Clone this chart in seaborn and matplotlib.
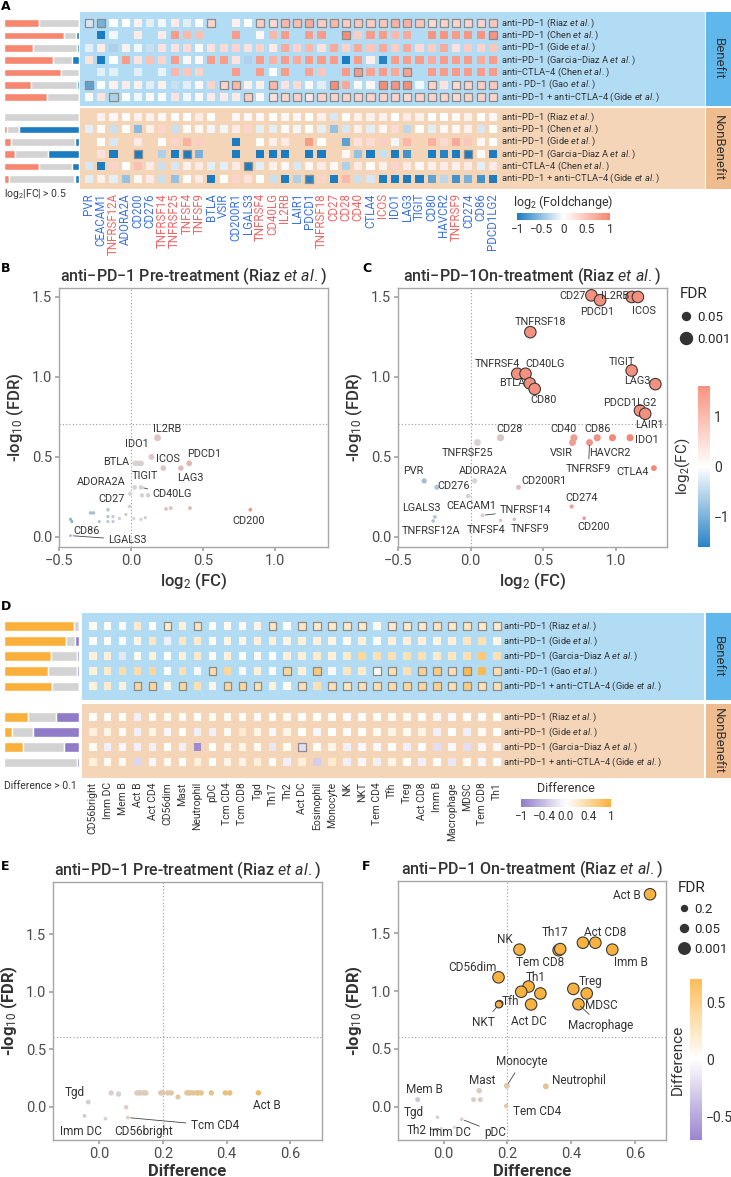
import numpy as np
import pandas as pd
import matplotlib.pyplot as plt
import seaborn as sns
from matplotlib.colors import LinearSegmentedColormap, Normalize
from matplotlib.cm import ScalarMappable
from matplotlib.lines import Line2D

nan = np.nan

# ---------------- panel A: checkpoint genes, log2 fold change per study
genes = ["PVR", "CEACAM1", "TNFRSF12A", "ADORA2A", "CD200", "CD276", "TNFRSF14",
         "TNFRSF25", "TNFSF4", "TNFSF9", "BTLA", "VSIR", "CD200R1", "LGALS3",
         "TNFRSF4", "CD40LG", "IL2RB", "LAIR1", "PDCD1", "TNFRSF18", "CD27", "CD28",
         "CD40", "CTLA4", "ICOS", "IDO1", "LAG3", "TIGIT", "CD80", "HAVCR2",
         "TNFRSF9", "CD274", "CD86", "PDCD1LG2"]
gene_kind = "iisiiissssiiiisssiissssisiiiiisiii"  # s = stimulatory, i = inhibitory

a_treat_b = ["anti−PD−1", "anti−PD−1", "anti−PD−1", "anti−PD−1", "anti−CTLA−4",
             "anti - PD−1", "anti−PD−1 + anti−CTLA−4"]
a_author_b = ["Riaz", "Chen", "Gide", "Garcia−Diaz A", "Chen", "Gao", "Gide"]
a_treat_nb = ["anti−PD−1", "anti−PD−1", "anti−PD−1", "anti−PD−1", "anti−CTLA−4",
              "anti−PD−1 + anti−CTLA−4"]
a_author_nb = ["Riaz", "Chen", "Gide", "Garcia−Diaz A", "Chen", "Gide"]

fc_benefit = [
    [-0.15, -0.5, 0.02, 0.0, 0.1, -0.1, -0.05, 0.15, -0.1, 0.0, 0.3, nan, 0.1, 0.0, 0.35, 0.25, 0.5,
     0.45, 0.6, 0.35, 0.5, 0.35, 0.4, 0.35, 0.4, 0.55, 0.55, 0.4, 0.25, 0.3, 0.3, 0.3, 0.3, 0.4],
    [nan, -1.0, -0.05, nan, 0.15, nan, 0.15, 0.7, 0.5, 0.45, nan, nan, 0.7, nan, 0.05, 0.5, 0.7,
     nan, 0.7, 0.7, nan, 0.8, 0.35, 0.7, 0.7, 0.5, 0.6, nan, 0.75, 0.75, 0.7, 0.75, 0.75, 0.75],
    [-0.1, 0.15, -0.3, 0.1, -0.05, -0.2, 0.2, 0.2, 0.25, 0.05, 0.2, 0.25, 0.3, 0.2, 0.3, 0.15, 0.6,
     0.3, 0.5, 0.2, 0.6, 0.3, 0.6, 0.4, 0.6, 0.35, 0.6, 0.25, 0.35, 0.6, 0.2, 0.35, 0.3, 0.4],
    [0.2, -1.0, 0.0, 0.7, 0.2, 0.45, 0.3, 0.7, 0.05, 0.05, 0.7, 0.7, 0.2, -0.3, 0.7, 0.55, 0.7,
     0.6, 0.7, 0.7, 0.7, -0.9, 0.7, 0.1, -0.8, 0.7, 0.7, 0.7, 0.6, 0.7, 0.7, 0.7, 0.6, 0.7],
    [nan, -0.1, -0.1, nan, -0.1, nan, -0.08, 0.5, 0.4, 0.3, nan, nan, 0.7, nan, 0.7, 0.0, 0.7,
     nan, 0.65, 0.4, nan, 0.7, 0.7, 0.65, 0.7, 0.6, 0.65, nan, 0.7, 0.7, 0.7, 0.7, 0.7, 0.7],
    [-0.6, 0.0, 0.1, 0.15, 0.1, -0.1, 0.1, -0.2, -0.1, 0.05, 0.3, 0.3, 0.5, 0.1, 0.1, 0.5, 0.2,
     0.25, 0.05, -0.1, 0.8, 0.6, 0.05, 0.05, 0.8, 0.75, 0.8, -0.05, 0.3, 0.2, 0.25, 0.3, 0.35, 0.4],
    [0.02, 0.2, -0.3, 0.0, -0.05, 0.05, 0.0, 0.2, -0.05, 0.05, 0.15, 0.15, 0.15, 0.35, 0.05, 0.2, 0.3,
     0.3, 0.15, 0.3, 0.3, 0.3, 0.3, 0.3, 0.3, 0.3, 0.25, 0.3, 0.3, 0.3, 0.25, 0.3, 0.3, 0.3],
]
fc_nonbenefit = [
    [nan, 0.1, 0.05, 0.02, 0.1, 0.1, 0.05, 0.02, 0.0, 0.15, 0.0, nan, 0.05, 0.05, 0.05, 0.0, 0.05,
     0.05, 0.0, 0.1, -0.15, 0.0, 0.1, 0.1, 0.1, 0.0, 0.15, 0.1, 0.0, 0.0, 0.05, 0.1, 0.0, 0.05],
    [-0.1, 0.02, -0.2, 0.0, -0.45, 0.1, 0.3, -0.2, 0.02, 0.05, -0.05, -0.05, 0.15, 0.3, -0.1, -0.1, 0.02,
     -0.05, 0.0, -0.1, -0.4, -0.15, 0.1, -0.1, 0.05, 0.25, -0.25, 0.0, -0.1, 0.05, 0.05, 0.1, -0.15, 0.0],
    [nan, 0.0, -0.15, nan, 0.15, nan, 0.0, 0.3, 0.55, 0.35, nan, nan, -1.0, nan, 0.0, 0.1, 0.15,
     nan, 0.7, 0.0, nan, -0.6, 0.2, 0.25, 0.35, -0.05, 0.5, nan, 0.55, 0.25, 0.6, 0.4, 0.05, 0.0],
    [nan, 0.2, -1.0, nan, -1.0, nan, -0.3, -1.0, -1.0, -0.5, nan, nan, -1.0, nan, -1.0, -1.0, -1.0,
     nan, -1.0, -1.0, nan, 0.05, -0.4, -1.0, -0.2, -1.0, -0.7, nan, -1.0, -0.8, -1.0, -1.0, 0.02, -1.0],
    [-0.15, -1.0, 0.3, 0.0, 0.45, 0.15, -0.2, -0.15, 0.1, 0.15, -0.1, -0.1, 0.15, -0.9, -0.1, 0.1, 0.05,
     -0.15, 0.05, 0.15, 0.05, -0.3, 0.15, 0.02, 0.1, 0.3, 0.15, 0.05, 0.1, 0.15, 0.1, 0.15, -0.1, 0.15],
    [-0.1, 0.1, -0.1, -0.4, 0.05, 0.15, -0.2, -0.4, 0.0, 0.15, -1.0, 0.0, 0.3, 0.2, 0.0, -0.2, -1.0,
     -0.3, -0.8, 0.3, -1.0, 0.5, -0.2, -0.15, -1.0, -1.0, -1.0, -1.0, -0.6, -0.25, -0.7, -0.5, -0.7, -1.0],
]
# significant cells (outlined), column indices per row
sig_benefit = [[0, 1, 10] + list(range(14, 34)), [21, 33], [], [], [22, 26],
               [0, 11, 12, 15, 20, 24, 25, 26, 28, 30, 31, 32, 33], [2, 13] + list(range(15, 34))]
sig_nonbenefit = [[], [], [], [4, 8, 31], [13], [18]]

# share of genes up / down per study (rest is |FC| <= 0.5)
a_up_b = [0.47, 0.80, 0.39, 0.65, 0.76, 0.36, 0.57]
a_down_b = [0.0, 0.04, 0.03, 0.09, 0.0, 0.03, 0.0]
a_up_nb = [0.0, 0.045, 0.09, 0.15, 0.46, 0.06]
a_down_nb = [0.0, 0.80, 0.06, 0.41, 0.09, 0.06]

# ---------------- panel D: immune cell differences per study
cells = ["CD56bright", "Imm DC", "Mem B", "Act B", "Act CD4", "CD56dim", "Mast", "Neutrophil",
         "pDC", "Tcm CD4", "Tcm CD8", "Tgd", "Th17", "Th2", "Act DC", "Eosinophil", "Monocyte",
         "NK", "NKT", "Tem CD4", "Tfh", "Treg", "Act CD8", "Imm B", "Macrophage", "MDSC",
         "Tem CD8", "Th1"]
d_treat_b = ["anti−PD−1", "anti−PD−1", "anti−PD−1", "anti - PD−1", "anti−PD−1 + anti−CTLA−4"]
d_author_b = ["Riaz", "Gide", "Garcia−Diaz A", "Gao", "Gide"]
d_treat_nb = ["anti−PD−1", "anti−PD−1", "anti−PD−1", "anti−PD−1 + anti−CTLA−4"]
d_author_nb = ["Riaz", "Gide", "Garcia−Diaz A", "Gide"]

diff_benefit = [
    [0.05, 0.02, -0.02, 0.2, 0.0, 0.2, 0.15, 0.25, 0.02, 0.05, 0.05, 0.1, 0.25, 0.0, 0.25, 0.2, 0.2,
     0.2, 0.2, 0.05, 0.2, 0.2, 0.2, 0.25, 0.2, 0.25, 0.2, 0.2],
    [0.0, 0.0, -0.03, 0.1, 0.25, -0.1, 0.25, 0.2, 0.05, 0.1, 0.1, 0.15, 0.15, 0.1, 0.15, 0.15, 0.1,
     0.05, 0.15, 0.0, 0.15, 0.15, 0.15, 0.1, 0.15, 0.25, 0.3, 0.1],
    [0.15, 0.15, -0.15, 0.05, 0.15, 0.0, 0.15, 0.2, 0.05, 0.15, 0.0, 0.05, 0.0, 0.15, 0.15, 0.2, 0.15,
     0.2, 0.4, 0.3, 0.3, 0.3, 0.3, 0.2, 0.25, 0.3, 0.55, 0.3],
    [0.15, 0.2, 0.35, 0.35, 0.4, 0.0, 0.3, -0.05, 0.35, 0.4, -0.05, 0.15, 0.02, 0.4, 0.15, 0.55, -0.05,
     0.25, 0.2, 0.05, 0.3, 0.3, 0.45, 0.5, 0.3, 0.7, 0.7, 0.3],
    [0.15, 0.2, 0.15, 0.4, 0.4, 0.1, 0.4, 0.3, 0.1, 0.4, 0.4, 0.3, 0.15, 0.05, 0.3, 0.3, 0.3,
     0.25, 0.3, 0.3, 0.35, 0.4, 0.4, 0.45, 0.3, 0.5, 0.3, 0.3],
]
diff_nonbenefit = [
    [0.02, 0.02, 0.0, -0.1, 0.02, 0.05, 0.02, 0.0, 0.05, 0.05, 0.02, -0.02, 0.0, 0.05, 0.0, 0.0, 0.02,
     -0.02, 0.02, 0.02, 0.05, 0.05, 0.02, -0.05, -0.03, 0.0, 0.02, 0.0],
    [0.15, 0.1, 0.03, -0.1, 0.1, -0.05, 0.0, -0.1, -0.1, 0.05, 0.2, 0.1, -0.05, 0.1, 0.0, -0.05, 0.0,
     -0.02, 0.02, 0.05, 0.1, 0.05, 0.1, -0.1, 0.0, -0.1, 0.05, 0.0],
    [0.05, -0.1, -0.05, -0.1, -0.1, 0.0, -0.1, -0.7, 0.0, 0.1, 0.1, 0.05, -0.15, 0.05, -0.2, 0.02, 0.1,
     -0.1, -0.05, -0.05, 0.02, -0.1, 0.02, -0.2, -0.05, -0.2, -0.05, -0.05],
    [0.15, 0.05, 0.05, -0.25, -0.05, 0.05, 0.0, 0.15, 0.0, 0.1, 0.1, 0.15, 0.0, -0.1, 0.15, -0.3, 0.2,
     -0.1, -0.05, -0.1, 0.1, 0.02, -0.1, 0.0, -0.15, 0.05, -0.05, 0.0],
]
dsig_benefit = [[5, 7, 12, 14, 15, 16, 17, 18] + list(range(20, 28)), [], [],
                [8, 13, 15, 19, 20, 22, 23, 24, 25, 27],
                [3, 4, 6, 9, 10, 11, 14, 16, 17, 18] + list(range(19, 28))]
dsig_nonbenefit = [[], [], [14], []]

d_up_b = [0.93, 0.83, 0.62, 0.58, 0.64]
d_down_b = [0.0, 0.06, 0.03, 0.03, 0.0]
d_up_nb = [0.32, 0.10, 0.25, 0.0]
d_down_nb = [0.31, 0.61, 0.20, 0.03]

# ---------------- panels B / C: volcano of checkpoint genes
b_gene = ["IL2RB", "IDO1", "ICOS", "LAG3", "PDCD1", "BTLA", "CD40", "TNFRSF4", "TIGIT", "CD40LG",
          "ADORA2A", "CD28", "TNFRSF18", "CD27", "CD80", "TNFRSF9", "CTLA4", "CD200", "CD276", "PVR",
          "CEACAM1", "VSIR", "LAIR1", "HAVCR2", "CD200R1", "TNFRSF12A", "CD274", "PDCD1LG2",
          "TNFRSF25", "CD86", "TNFSF4", "TNFSF9", "TNFRSF14", "LGALS3"]
b_fc = [0.185, 0.143, 0.225, 0.347, 0.405, 0.03, 0.05, 0.07, 0.026, 0.07, -0.005, 0.077, 0.12, -0.01,
        0.244, 0.277, 0.41, 0.83, -0.16, -0.28, -0.26, -0.16, -0.125, -0.035, -0.08, -0.22, -0.16,
        -0.125, -0.42, -0.41, 0.02, 0.07, 0.1, -0.42]
b_lfdr = [0.62, 0.50, 0.43, 0.43, 0.46, 0.46, 0.46, 0.46, 0.31, 0.31, 0.27, 0.26, 0.26, 0.19, 0.175,
          0.18, 0.18, 0.17, 0.17, 0.15, 0.15, 0.127, 0.127, 0.14, 0.115, 0.096, 0.096, 0.096, 0.11,
          0.096, 0.115, 0.11, 0.12, 0.008]

c_gene = ["CD27", "PDCD1", "IL2RB", "ICOS", "TNFRSF18", "TNFRSF4", "CD40LG", "BTLA", "CD80", "TIGIT",
          "LAG3", "PDCD1LG2", "LAIR1", "CD28", "TNFRSF25", "CD40", "VSIR", "CD86", "HAVCR2", "TNFRSF9",
          "IDO1", "CTLA4", "PVR", "ADORA2A", "CD276", "CD200R1", "CEACAM1", "CD274", "LGALS3",
          "TNFRSF12A", "TNFRSF14", "TNFSF4", "TNFSF9", "CD200"]
c_fc = [0.83, 0.89, 1.107, 1.15, 0.41, 0.32, 0.377, 0.406, 0.44, 1.107, 1.27, 1.164, 1.20, 0.205,
        0.046, 0.71, 0.70, 0.87, 0.975, 0.817, 1.096, 1.26, -0.32, 0.027, -0.233, 0.329, -0.018,
        0.694, -0.246, -0.258, 0.082, 0.205, 0.30, 0.78]
c_lfdr = [1.51, 1.48, 1.50, 1.50, 1.28, 1.02, 1.02, 0.96, 0.925, 1.04, 0.955, 0.79, 0.77, 0.62, 0.59,
          0.62, 0.59, 0.62, 0.62, 0.59, 0.62, 0.43, 0.35, 0.35, 0.31, 0.31, 0.256, 0.19, 0.125, 0.10,
          0.135, 0.104, 0.11, 0.117]

# ---------------- panels E / F: volcano of cell types
e_cell = ["Tgd", "Imm DC", "CD56bright", "Tcm CD4", "Mem B", "Mast", "pDC", "Th2", "Neutrophil",
          "Tcm CD8", "Th17", "Monocyte", "Eosinophil", "NKT", "Tem CD4", "Th1", "NK", "Tfh", "Act CD4",
          "CD56dim", "Act DC", "Imm B", "Treg", "Act B", "Act CD8", "Macrophage", "MDSC", "Tem CD8"]
e_diff = [-0.035, -0.047, 0.019, 0.089, 0.084, 0.037, 0.06, 0.247, 0.118, 0.129, 0.139, 0.146, 0.193,
          0.215, 0.226, 0.275, 0.286, 0.296, 0.307, 0.32, 0.352, 0.396, 0.41, 0.50, 0.125, 0.20,
          0.28, 0.31]
e_lfdr = [0.04, -0.08, -0.104, -0.095, -0.005, 0.12, 0.11, 0.084, 0.12, 0.12, 0.12, 0.12, 0.12, 0.12,
          0.12, 0.12, 0.12, 0.12, 0.12, 0.12, 0.12, 0.12, 0.12, 0.12, 0.12, 0.12, 0.12, 0.12]

f_cell = ["Act B", "NK", "Tem CD8", "Th17", "Act CD8", "Tcm CD8", "Imm B", "CD56dim", "Th1", "Act CD4",
          "Eosinophil", "Act DC", "Treg", "MDSC", "Macrophage", "Tfh", "NKT", "Monocyte", "Neutrophil",
          "Mast", "CD56bright", "Tcm CD4", "Mem B", "Tem CD4", "Tgd", "Th2", "Imm DC", "pDC"]
f_diff = [0.646, 0.2375, 0.36, 0.365, 0.475, 0.436, 0.528, 0.172, 0.266, 0.243, 0.303, 0.274, 0.406,
          0.448, 0.422, 0.175, 0.173, 0.198, 0.32, 0.1115, 0.094, 0.115, -0.081, 0.196, -0.019,
          -0.007, 0.034, 0.057]
f_lfdr = [1.84, 1.36, 1.355, 1.365, 1.42, 1.42, 1.36, 1.12, 1.04, 0.995, 0.98, 0.885, 1.02, 0.98,
          0.887, 0.89, 0.885, 0.18, 0.175, 0.137, 0.06, 0.06, 0.06, 0.005, -0.093, -0.19, -0.18, -0.11]
f_fdr = [0.001] * 15 + [0.05, 0.05] + [0.66, 0.67, 0.73, 0.87, 0.87, 0.87, 0.99, 1, 1, 1, 1]

# ---------------- style
sns.set_theme(style="white")
plt.rcParams["font.family"] = ["Roboto", "DejaVu Sans"]
plt.rcParams["mathtext.fontset"] = "custom"
plt.rcParams["mathtext.rm"] = "Roboto"
plt.rcParams["mathtext.it"] = "Roboto:italic"
plt.rcParams["mathtext.bf"] = "Roboto:bold"

TXT = "#333333"
BLUE_BG, ORANGE_BG = "#b1dcf4", "#f5d5b8"
BLUE_STRIP, ORANGE_STRIP = "#5fb7ec", "#efbc8f"
GREY = "#d3d3d3"
SALMON, FC_BLUE = "#f7866f", "#1b7cc1"
ORANGE, PURPLE = "#fbb03b", "#8f7bc8"

fc_cmap = LinearSegmentedColormap.from_list("fc", [FC_BLUE, "#ffffff", SALMON])
diff_cmap = LinearSegmentedColormap.from_list("diff", [PURPLE, "#ffffff", ORANGE])
fc_pts = LinearSegmentedColormap.from_list("fcp", ["#2f86c4", "#d6d6d6", "#f4877a"])
diff_pts = LinearSegmentedColormap.from_list("dfp", ["#8f7cc6", "#d5d3d6", "#f6b144"])

W, H = 731, 1177
fig = plt.figure(figsize=(W / 100, H / 100), dpi=100)


def px_axes(x0, y0, x1, y1):
    return fig.add_axes([x0 / W, 1 - y1 / H, (x1 - x0) / W, (y1 - y0) / H])


def ftext(x, y, s, **kw):
    fig.text(x / W, 1 - y / H, s, **kw)


def study_label(treat, author):
    return f"{treat} ({author} $\\it{{et\\ al.}}$)"


def blank(ax):
    ax.set_xticks([])
    ax.set_yticks([])
    for sp in ax.spines.values():
        sp.set_visible(False)


def draw_grid(ax, mat_b, mat_nb, sig_b, sig_nb, nb_offset, cmap, norm, size):
    recs = []
    for r, vals in enumerate(mat_b):
        for c, v in enumerate(vals):
            recs.append(dict(row=r, col=c, value=v, sig=c in sig_b[r]))
    for r, vals in enumerate(mat_nb):
        for c, v in enumerate(vals):
            recs.append(dict(row=nb_offset + r, col=c, value=v, sig=c in sig_nb[r]))
    df = pd.DataFrame(recs).dropna(subset=["value"])
    sns.scatterplot(data=df[~df.sig], x="col", y="row", hue="value", palette=cmap, hue_norm=norm,
                    marker="s", s=size, edgecolor="none", linewidth=0, legend=False, ax=ax, zorder=3)
    sns.scatterplot(data=df[df.sig], x="col", y="row", hue="value", palette=cmap, hue_norm=norm,
                    marker="s", s=size, edgecolor="#8c8c8c", linewidth=0.9, legend=False, ax=ax, zorder=3)


def draw_bars(ax, up, down, rows, c_up, c_down, ylim):
    up, down = np.array(up), np.array(down)
    rest = 1 - up - down
    ax.barh(rows, up, height=0.62, color=c_up)
    ax.barh(rows, rest, left=up, height=0.62, color=GREY)
    ax.barh(rows, down, left=up + rest, height=0.62, color=c_down)
    ax.set_xlim(0, 1)
    ax.set_ylim(*ylim)
    blank(ax)


def strip(x0, y0, x1, y1, color, text):
    ax = px_axes(x0, y0, x1, y1)
    ax.set_facecolor(color)
    blank(ax)
    ax.text(0.5, 0.5, text, rotation=270, ha="center", va="center", fontsize=9.5, color=TXT,
            transform=ax.transAxes)


def hcolorbar(x0, y0, x1, y1, cmap, norm, ticks, labels, title):
    cax = px_axes(x0, y0, x1, y1)
    cb = fig.colorbar(ScalarMappable(norm=norm, cmap=cmap), cax=cax, orientation="horizontal")
    cb.outline.set_visible(False)
    cb.set_ticks(ticks)
    cb.set_ticklabels(labels)
    cax.tick_params(direction="in", length=2.5, width=0.8, color="white", labelsize=8.5,
                    labelcolor=TXT, pad=2)
    ftext((x0 + x1) / 2, y0 - 11, title, ha="center", va="center", fontsize=9, color=TXT)


def vcolorbar(x0, y0, x1, y1, cmap, norm, ticks, labels, title):
    cax = px_axes(x0, y0, x1, y1)
    cb = fig.colorbar(ScalarMappable(norm=norm, cmap=cmap), cax=cax, orientation="vertical")
    cb.outline.set_visible(False)
    cb.set_ticks(ticks)
    cb.set_ticklabels(labels)
    cax.tick_params(direction="in", length=3, width=0.8, color="white", labelsize=10,
                    labelcolor=TXT, pad=3)
    cax.yaxis.set_label_position("left")
    cax.set_ylabel(title, fontsize=11, color=TXT, labelpad=4)


ROW_FS = 6.7

# ================= panel A
a_rows_b = list(range(len(fc_benefit)))
a_nb_off = 7.61
a_rows_nb = [a_nb_off + i for i in range(len(fc_nonbenefit))]
a_ylim = (13.44, -0.89)

ax = px_axes(80, 12, 705, 189)
ax.axhspan(-0.89, 6.72, color=BLUE_BG, zorder=0, lw=0)
ax.axhspan(6.88, 13.44, color=ORANGE_BG, zorder=0, lw=0)
draw_grid(ax, fc_benefit, fc_nonbenefit, sig_benefit, sig_nonbenefit, a_nb_off,
          fc_cmap, Normalize(-0.85, 0.85), 34)
ax.set_xlim(-0.735, 50.33)
ax.set_ylim(*a_ylim)
ax.set_xticks(range(len(genes)))
ax.set_xticklabels(genes, rotation=90, fontsize=8.3)
for lbl, kind in zip(ax.get_xticklabels(), gene_kind):
    lbl.set_color("#f26464" if kind == "s" else "#3d72e0")
ax.set_yticks([])
ax.tick_params(axis="x", length=0, pad=3)
ax.set_xlabel("")
ax.set_ylabel("")
for sp in ax.spines.values():
    sp.set_visible(False)
for r, t, a in zip(a_rows_b, a_treat_b, a_author_b):
    ax.text(33.66, r, study_label(t, a), fontsize=ROW_FS, va="center", ha="left", color=TXT)
for r, t, a in zip(a_rows_nb, a_treat_nb, a_author_nb):
    ax.text(33.66, r, study_label(t, a), fontsize=ROW_FS, va="center", ha="left", color=TXT)

bx = px_axes(4, 12, 79, 189)
draw_bars(bx, a_up_b + a_up_nb, a_down_b + a_down_nb, a_rows_b + a_rows_nb, SALMON, FC_BLUE, a_ylim)
strip(706, 12, 731, 106, BLUE_STRIP, "Benefit")
strip(706, 108, 731, 189, ORANGE_STRIP, "NonBenefit")
ftext(4, 194, r"log$_2$|FC| > 0.5", fontsize=7.5, va="center", color=TXT)
hcolorbar(517, 213, 610, 220, fc_cmap, Normalize(-1, 1), [-1, -0.5, 0, 0.5, 1],
          ["−1", "−0.5", "0", "0.5", "1"], r"log$_2$ (Foldchange)")

# ================= panel D
d_rows_b = list(range(len(diff_benefit)))
d_nb_off = 6.05
d_rows_nb = [d_nb_off + i for i in range(len(diff_nonbenefit))]
d_ylim = (10.1, -0.864)

ax = px_axes(82, 613, 704, 778)
ax.axhspan(-0.864, 4.92, color=BLUE_BG, zorder=0, lw=0)
ax.axhspan(5.18, 10.1, color=ORANGE_BG, zorder=0, lw=0)
draw_grid(ax, diff_benefit, diff_nonbenefit, dsig_benefit, dsig_nonbenefit, d_nb_off,
          diff_cmap, Normalize(-0.8, 0.8), 30)
ax.set_xlim(-0.715, 40.84)
ax.set_ylim(*d_ylim)
ax.set_xticks(range(len(cells)))
ax.set_xticklabels(cells, rotation=90, fontsize=7.5, color=TXT)
ax.set_yticks([])
ax.tick_params(axis="x", length=0, pad=3)
ax.set_xlabel("")
ax.set_ylabel("")
for sp in ax.spines.values():
    sp.set_visible(False)
for r, t, a in zip(d_rows_b, d_treat_b, d_author_b):
    ax.text(27.41, r, study_label(t, a), fontsize=ROW_FS, va="center", ha="left", color=TXT)
for r, t, a in zip(d_rows_nb, d_treat_nb, d_author_nb):
    ax.text(27.41, r, study_label(t, a), fontsize=ROW_FS, va="center", ha="left", color=TXT)

bx = px_axes(4, 613, 79, 778)
draw_bars(bx, d_up_b + d_up_nb, d_down_b + d_down_nb, d_rows_b + d_rows_nb, ORANGE, PURPLE, d_ylim)
strip(706, 613, 731, 700, BLUE_STRIP, "Benefit")
strip(706, 704, 731, 778, ORANGE_STRIP, "NonBenefit")
ftext(4, 786, "Difference > 0.1", fontsize=7.5, va="center", color=TXT)
hcolorbar(521, 799, 611, 807, diff_cmap, Normalize(-1, 1), [-1, -0.5, 0, 0.5, 1],
          ["−1", "−0.4", "0.0", "0.4", "1"], "Difference")


# ================= volcano panels
def volcano(ax, names, xs, ys, pts_cmap, norm, sig_y, sig_color, vline, hline, sizes_px, labels, lined,
            lab_size):
    df = pd.DataFrame({"name": names, "x": xs, "y": ys})
    s = (np.asarray(sizes_px) * 0.72) ** 2
    sig = df.y.values > sig_y
    ax.axvline(vline, color="#9a9a9a", ls=(0, (1, 2)), lw=0.8, zorder=1)
    ax.axhline(hline, color="#9a9a9a", ls=(0, (1, 2)), lw=0.8, zorder=1)
    sns.scatterplot(data=df[~sig], x="x", y="y", hue="x", palette=pts_cmap, hue_norm=norm,
                    s=s[~sig], edgecolor="none", linewidth=0, legend=False, ax=ax, zorder=3)
    if sig.any():
        sns.scatterplot(data=df[sig], x="x", y="y", color=sig_color, s=s[sig],
                        edgecolor="#3a3a3a", linewidth=0.8, legend=False, ax=ax, zorder=4)
    for name, (dx, dy) in labels.items():
        row = df[df.name == name].iloc[0]
        arrow = dict(arrowstyle="-", color="#444444", lw=0.6, shrinkA=1, shrinkB=2) if name in lined else None
        ax.annotate(name, (row.x, row.y), xytext=(dx, dy), textcoords="offset pixels", ha="center",
                    va="center", fontsize=lab_size, color=TXT, arrowprops=arrow, zorder=5)


def style_axes(ax, xlim, ylim, xticks, xlabels, xlabel, ylabel, title, weight):
    ax.set_xlim(*xlim)
    ax.set_ylim(*ylim)
    ax.set_xticks(xticks)
    ax.set_xticklabels(xlabels)
    ax.set_yticks([0, 0.5, 1.0, 1.5])
    ax.set_yticklabels(["0.0", "0.5", "1.0", "1.5"])
    for sp in ax.spines.values():
        sp.set_color("#a6a6a6")
        sp.set_linewidth(1)
    ax.tick_params(length=3, color="#a6a6a6", labelsize=10.5, labelcolor="#4d4d4d", pad=2,
                   bottom=True, left=True)
    ax.set_xlabel(xlabel, fontsize=12, color=TXT, fontweight=weight, labelpad=2)
    ax.set_ylabel(ylabel, fontsize=12, color=TXT, fontweight=weight, labelpad=4)
    ax.set_title(title, fontsize=11.5, color=TXT, pad=5, fontweight="medium")


def nonsig_size(y, base, slope, lo):
    return np.clip(base + slope * np.asarray(y), lo, None)


fc_xt = [-0.5, 0, 0.5, 1.0]
fc_xl = ["−0.5", "0.0", "0.5", "1.0"]
df_xt = [0, 0.2, 0.4, 0.6]
df_xl = ["0.0", "0.2", "0.4", "0.6"]

# B
ax = px_axes(59, 288, 328, 547)
volcano(ax, b_gene, b_fc, b_lfdr, fc_pts, (-1, 1), 0.7, SALMON, 0, 0.706,
        nonsig_size(b_lfdr, 2.5, 7, 2.5),
        {"IL2RB": (10, 9), "IDO1": (-15, 13), "ICOS": (5, 9), "PDCD1": (15, 9), "LAG3": (10, -10),
         "BTLA": (-19, 1), "TIGIT": (10, 11), "CD40LG": (31, -7), "ADORA2A": (-29, 12),
         "CD27": (-18, 8), "CD200": (-2, -11), "CD86": (15, -9), "LGALS3": (57, -4)},
        {"CD40LG", "LGALS3"}, 7.8)
style_axes(ax, (-0.5, 1.37), (-0.063, 1.556), fc_xt, fc_xl, r"log$_2$ (FC)", r"-log$_{10}$ (FDR)",
           "anti−PD−1 Pre-treatment (Riaz $\\it{et\\ al.}$)", "medium")

# C
ax = px_axes(398, 288, 667, 547)
c_sizes = np.where(np.array(c_lfdr) > 0.7, 11.5, nonsig_size(c_lfdr, 2.8, 7, 2.5))
volcano(ax, c_gene, c_fc, c_lfdr, fc_pts, (-1, 1), 0.7, "#f4907e", 0, 0.706, c_sizes,
        {"CD27": (-19, -1), "PDCD1": (-3, -12), "IL2RB": (-17, 1), "ICOS": (6, -14),
         "TNFRSF18": (10, 10), "TNFRSF4": (-20, 10), "CD40LG": (20, 10), "BTLA": (-18, 0),
         "CD80": (9, -11), "TIGIT": (-10, 9), "LAG3": (-18, 3), "PDCD1LG2": (-10, 8),
         "LAIR1": (4, -11), "CD28": (9, 9), "TNFRSF25": (-10, -10), "CD40": (-10, 9),
         "VSIR": (-11, -10), "CD86": (0, 9), "HAVCR2": (-3, -15), "TNFRSF9": (-1, -26),
         "IDO1": (17, -2), "CTLA4": (-21, -4), "PVR": (-11, 10), "ADORA2A": (9, 10),
         "CD276": (17, 1), "CD200R1": (25, 6), "CEACAM1": (3, -10), "CD274": (10, 9),
         "LGALS3": (-13, 9), "TNFRSF12A": (-2, -10), "TNFRSF14": (43, 5), "TNFSF4": (-14, -10),
         "TNFSF9": (16, -10), "CD200": (10, -9)},
        {"TNFRSF9", "TNFRSF14"}, 7.8)
style_axes(ax, (-0.49, 1.35), (-0.063, 1.556), fc_xt, fc_xl, r"log$_2$ (FC)", r"-log$_{10}$ (FDR)",
           "anti−PD−1On-treatment (Riaz $\\it{et\\ al.}$)", "medium")
fig.legend([Line2D([], [], marker="o", ls="", color="#333333", markersize=d * 0.72) for d in (8, 12)],
           ["0.05", "0.001"], title="FDR", loc="upper left", bbox_to_anchor=(674 / W, 1 - 282 / H),
           frameon=False, fontsize=9.5, title_fontsize=11, handlelength=1.0, handletextpad=0.4,
           labelspacing=0.7, borderaxespad=0, alignment="left")
vcolorbar(698, 386, 710, 547, LinearSegmentedColormap.from_list("cb", ["#2b83c6", "#ffffff", "#f8937f"]),
          Normalize(-1.6, 1.6), [-1, 0, 1], ["−1", "0", "1"], r"log$_2$(FC)")

# E
ax = px_axes(53, 882, 322, 1140)
volcano(ax, e_cell, e_diff, e_lfdr, diff_pts, (-0.7, 0.7), 0.6, ORANGE, 0.2, 0.603,
        nonsig_size(e_lfdr, 4.5, 8, 2.8),
        {"Tgd": (-14, 10), "Imm DC": (-4, -16), "CD56bright": (38, -13), "Tcm CD4": (87, -8),
         "Act B": (8, -13)},
        {"Tcm CD4"}, 8.5)
style_axes(ax, (-0.146, 0.70), (-0.29, 1.955), df_xt, df_xl, "Difference", r"-log$_{10}$ (FDR)",
           "anti−PD−1 Pre-treatment (Riaz $\\it{et\\ al.}$)", "bold")

# F
ax = px_axes(398, 881, 666, 1140)
f_fdr_a = np.array(f_fdr)
f_sizes = np.where(f_fdr_a <= 0.001, 11.5, np.where(f_fdr_a <= 0.05, 7, nonsig_size(f_lfdr, 4.5, 8, 2.8)))
volcano(ax, f_cell, f_diff, f_lfdr, diff_pts, (-0.7, 0.7), 0.6, "#f7b240", 0.2, 0.603, f_sizes,
        {"Act B": (-23, -1), "NK": (-15, 10), "Tem CD8": (-18, -12), "Th17": (-5, 17),
         "Act CD8": (10, 10), "Imm B": (19, -13), "CD56dim": (-26, 10), "Th1": (7, 9),
         "Act DC": (-2, -17), "Treg": (17, 7), "MDSC": (15, -12), "Macrophage": (22, -21),
         "Tfh": (11, 2), "NKT": (-15, -18), "Monocyte": (15, 24), "Neutrophil": (33, 6),
         "Mast": (3, 10), "Mem B": (7, 10), "Tem CD4": (31, -6), "Tgd": (-24, 5), "Th2": (-25, -2),
         "Imm DC": (-4, -5), "pDC": (33, -13)},
        {"Macrophage", "NKT", "Monocyte", "Th2", "pDC"}, 8.5)
style_axes(ax, (-0.1425, 0.696), (-0.29, 1.955), df_xt, df_xl, "Difference", r"-log$_{10}$ (FDR)",
           "anti−PD−1 On-treatment (Riaz $\\it{et\\ al.}$)", "bold")
fig.legend([Line2D([], [], marker="o", ls="", color="#333333", markersize=d * 0.72) for d in (6, 8, 11.5)],
           ["0.2", "0.05", "0.001"], title="FDR", loc="upper left", bbox_to_anchor=(672 / W, 1 - 876 / H),
           frameon=False, fontsize=9.5, title_fontsize=11, handlelength=1.0, handletextpad=0.3,
           labelspacing=0.55, borderaxespad=0, alignment="left")
vcolorbar(690, 979, 702, 1140, LinearSegmentedColormap.from_list("cb2", ["#9a85cf", "#ffffff", "#fbbd5a"]),
          Normalize(-0.7, 0.7), [-0.5, 0, 0.5], ["−0.5", "0", "0.5"], "Difference")

# panel letters
for letter, (x, y) in {"A": (1, 7), "B": (1, 268), "C": (362, 268), "D": (1, 606),
                       "E": (1, 866), "F": (362, 866)}.items():
    ftext(x, y, letter, fontsize=9, fontweight="bold", va="center", ha="left", color="black",
          family="DejaVu Sans")

fig.savefig("out.png", dpi=100)
